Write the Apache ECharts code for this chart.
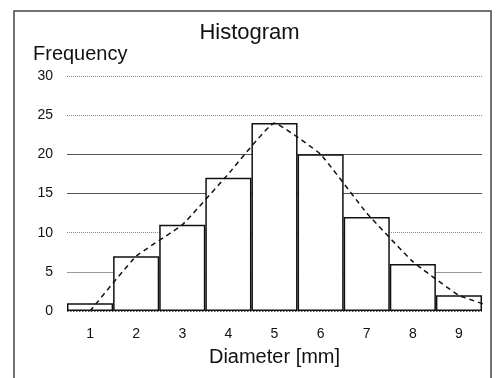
<!DOCTYPE html>
<html><head><meta charset="utf-8">
<script src="https://cdn.jsdelivr.net/npm/echarts@6/dist/echarts.min.js"></script>
<style>html,body{margin:0;padding:0;background:#fff}#c{width:499px;height:378px}</style>
</head><body><div id="c"></div>
<script>
const categories = ['1','2','3','4','5','6','7','8','9'];
const frequency = [1, 7, 11, 17, 24, 20, 12, 6, 2];
const curveX = [1, 2, 3, 4, 5, 6, 7, 8, 9, 10];
const curveY = [0, 7, 11, 17.5, 24, 20, 12.5, 6.3, 2, 0];
const dottedTicks = [30, 25, 10];
const solidTicks = [20, 15];
const lightTicks = [5];

const chart = echarts.init(document.getElementById('c'), null, {renderer: 'canvas'});
const grid = {left: 67, right: 17, top: 76, bottom: 67, outerBoundsMode: 'none', containLabel: false};
const ml = [];
dottedTicks.forEach(v => ml.push({yAxis: v, lineStyle: {type: 'dotted', color: '#888', width: 1}}));
solidTicks.forEach(v => ml.push({yAxis: v, lineStyle: {type: 'solid', color: '#555', width: 1}}));
lightTicks.forEach(v => ml.push({yAxis: v, lineStyle: {type: 'solid', color: '#999', width: 1}}));
ml.push({yAxis: 0, lineStyle: {type: 'dotted', color: '#222', width: 1.5}});

chart.setOption({
  animation: false,
  backgroundColor: '#fff',
  title: {text: 'Histogram', left: 'center', top: 17, textStyle: {fontFamily: 'Liberation Sans', fontSize: 22, fontWeight: 'normal', color: '#111'}},
  graphic: [
    {type: 'rect', shape: {x: 14, y: 11, width: 477, height: 400}, style: {fill: 'none', stroke: '#444', lineWidth: 1.5}, z: 100},
    {type: 'text', left: 33, top: 44, style: {text: 'Frequency', font: '20px "Liberation Sans"', fill: '#111'}}
  ],
  grid: grid,
  xAxis: [
    {type: 'category', data: categories, boundaryGap: true,
     axisLine: {show: false}, axisTick: {show: false},
     axisLabel: {margin: 16, fontFamily: 'Liberation Sans', fontSize: 14, color: '#111'},
     name: 'Diameter [mm]', nameLocation: 'middle', nameGap: 36,
     nameTextStyle: {fontFamily: 'Liberation Sans', fontSize: 20, color: '#111'}},
    {type: 'value', min: 0.5, max: 9.5, show: false}
  ],
  yAxis: {type: 'value', min: 0, max: 30, interval: 5,
    axisLine: {show: false}, axisTick: {show: false}, splitLine: {show: false},
    axisLabel: {margin: 14, fontFamily: 'Liberation Sans', fontSize: 14, color: '#111'}},
  series: [
    {type: 'bar', data: frequency, xAxisIndex: 0, barCategoryGap: '0%',
     itemStyle: {color: '#fff', borderColor: '#111', borderWidth: 1.5},
     markLine: {silent: true, symbol: 'none', label: {show: false}, data: ml, z: 0}, z: 2},
    {type: 'line', xAxisIndex: 1, data: curveX.map((x, i) => [x, curveY[i]]),
     smooth: 0.1, showSymbol: false, clip: false,
     lineStyle: {color: '#111', width: 1.5, type: [5, 4]}, z: 5}
  ]
});
</script></body></html>
